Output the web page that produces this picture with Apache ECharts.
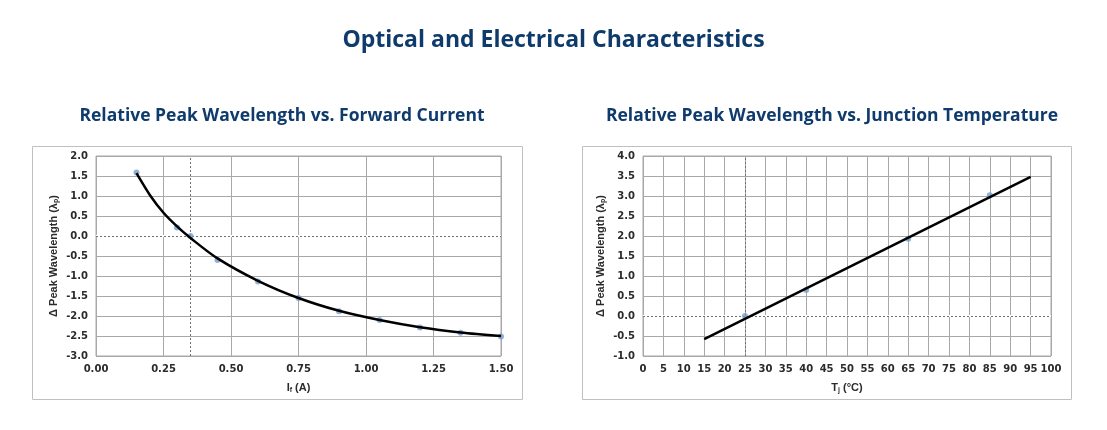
<!DOCTYPE html>
<html>
<head>
<meta charset="utf-8">
<script src="https://cdn.jsdelivr.net/npm/echarts@6/dist/echarts.min.js"></script>
<style>
  html, body { margin: 0; padding: 0; background: #fff; }
  #main { width: 1107px; height: 430px; }
</style>
</head>
<body>
<div id="main"></div>
<script>
// left chart: relative peak wavelength vs forward current
var currentPoints = [
    [0.15, 1.59], [0.30, 0.21], [0.35, 0.0], [0.45, -0.60], [0.60, -1.14],
    [0.75, -1.55], [0.90, -1.88], [1.05, -2.10], [1.20, -2.29], [1.35, -2.42], [1.50, -2.51]
];
// trend curve
var currentTrend = [
    [0.15, 1.57], [0.20, 1.02], [0.25, 0.58], [0.30, 0.24], [0.35, -0.05], [0.45, -0.56],
    [0.60, -1.12], [0.75, -1.55], [0.90, -1.87], [1.05, -2.10], [1.20, -2.28], [1.35, -2.41], [1.50, -2.50]
];
var currentRef = 0.35;

// right chart: relative peak wavelength vs junction temperature
var tempPoints = [[25, 0.0], [40, 0.65], [65, 1.93], [85, 3.02]];
var tempTrend = [[15, -0.58], [95, 3.48]];
var tempRef = 25;

var navy = '#0f3b6c';
var gridGray = '#a8a8a8';
var labelFont = { color: '#2b2b2b', fontWeight: 'bold', fontSize: 10, fontFamily: 'DejaVu Sans' };
var nameRich = {
    n: { color: '#2b2b2b', fontWeight: 'bold', fontSize: 11, fontFamily: 'Liberation Sans' },
    s: { color: '#2b2b2b', fontWeight: 'bold', fontSize: 7, fontFamily: 'Liberation Sans', padding: [5, 0, 0, 0] }
};

function xAxis(idx, min, max, interval, digits, name) {
    return {
        gridIndex: idx, type: 'value', min: min, max: max, interval: interval,
        axisLine: { show: false }, axisTick: { show: false },
        axisLabel: Object.assign({ margin: 8, formatter: function (v) { return v.toFixed(digits); } }, labelFont),
        splitLine: { show: true, lineStyle: { color: gridGray, width: 1 } },
        name: name, nameLocation: 'middle', nameGap: 26,
        nameTextStyle: { rich: nameRich }
    };
}

function yAxis(idx, min, max) {
    return {
        gridIndex: idx, type: 'value', min: min, max: max, interval: 0.5,
        axisLine: { show: false }, axisTick: { show: false },
        axisLabel: Object.assign({ margin: 8, formatter: function (v) { return v.toFixed(1); } }, labelFont),
        splitLine: { show: true, lineStyle: { color: gridGray, width: 1 } },
        name: '{n|Δ Peak Wavelength (λ}{s|p}{n|)}', nameLocation: 'middle', nameRotate: 90, nameGap: 36,
        nameTextStyle: { rich: nameRich }
    };
}

// dotted reference lines, drawn under the data (white first to hide the grid line at 0)
function refSeries(idx, xRef) {
    return {
        type: 'line', xAxisIndex: idx, yAxisIndex: idx, data: [], z: 1,
        markLine: {
            z: 1, silent: true, symbol: 'none', animation: false,
            label: { show: false },
            data: [
                { yAxis: 0, lineStyle: { color: '#ffffff', type: 'solid', width: 2 } },
                { yAxis: 0, lineStyle: { color: '#707070', type: [2, 2], width: 1 } },
                { xAxis: xRef, lineStyle: { color: '#707070', type: [2, 2], width: 1 } }
            ]
        }
    };
}

var chart = echarts.init(document.getElementById('main'));
var option = {
    animation: false,
    title: [
        { text: 'Optical and Electrical Characteristics', left: 'center', top: 24,
          textStyle: { color: navy, fontSize: 23, fontWeight: 'bold', fontFamily: 'Open Sans' } },
        { text: 'Relative Peak Wavelength vs. Forward Current', left: 277, textAlign: 'center', top: 102,
          textStyle: { color: navy, fontSize: 17.5, fontWeight: 'bold', fontFamily: 'Open Sans' } },
        { text: 'Relative Peak Wavelength vs. Junction Temperature', left: 827, textAlign: 'center', top: 102,
          textStyle: { color: navy, fontSize: 17.5, fontWeight: 'bold', fontFamily: 'Open Sans' } }
    ],
    graphic: [
        { type: 'rect', shape: { x: 32.5, y: 146.5, width: 490, height: 253 }, style: { fill: 'none', stroke: '#c0c0c0', lineWidth: 1 }, z: -1 },
        { type: 'rect', shape: { x: 582.5, y: 146.5, width: 489, height: 253 }, style: { fill: 'none', stroke: '#c0c0c0', lineWidth: 1 }, z: -1 }
    ],
    grid: [
        { left: 96, right: 606, top: 156, bottom: 74, show: true, borderColor: gridGray, borderWidth: 1 },
        { left: 643, right: 56, top: 156, bottom: 74, show: true, borderColor: gridGray, borderWidth: 1 }
    ],
    xAxis: [
        xAxis(0, 0, 1.5, 0.25, 2, '{n|I}{s|f}{n| (A)}'),
        xAxis(1, 0, 100, 5, 0, '{n|T}{s|j}{n| (°C)}')
    ],
    yAxis: [yAxis(0, -3, 2), yAxis(1, -1, 4)],
    series: [
        refSeries(0, currentRef),
        { type: 'scatter', xAxisIndex: 0, yAxisIndex: 0, data: currentPoints, symbolSize: 6,
          itemStyle: { color: '#759ccc' }, z: 2 },
        { type: 'line', xAxisIndex: 0, yAxisIndex: 0, data: currentTrend, smooth: 0.3,
          showSymbol: false, lineStyle: { color: '#000', width: 2.5 }, z: 3 },
        refSeries(1, tempRef),
        { type: 'scatter', xAxisIndex: 1, yAxisIndex: 1, data: tempPoints, symbolSize: 6,
          itemStyle: { color: '#759ccc' }, z: 2 },
        { type: 'line', xAxisIndex: 1, yAxisIndex: 1, data: tempTrend, showSymbol: false,
          lineStyle: { color: '#000', width: 2.5 }, z: 3 }
    ]
};
chart.setOption(option);
</script>
</body>
</html>
